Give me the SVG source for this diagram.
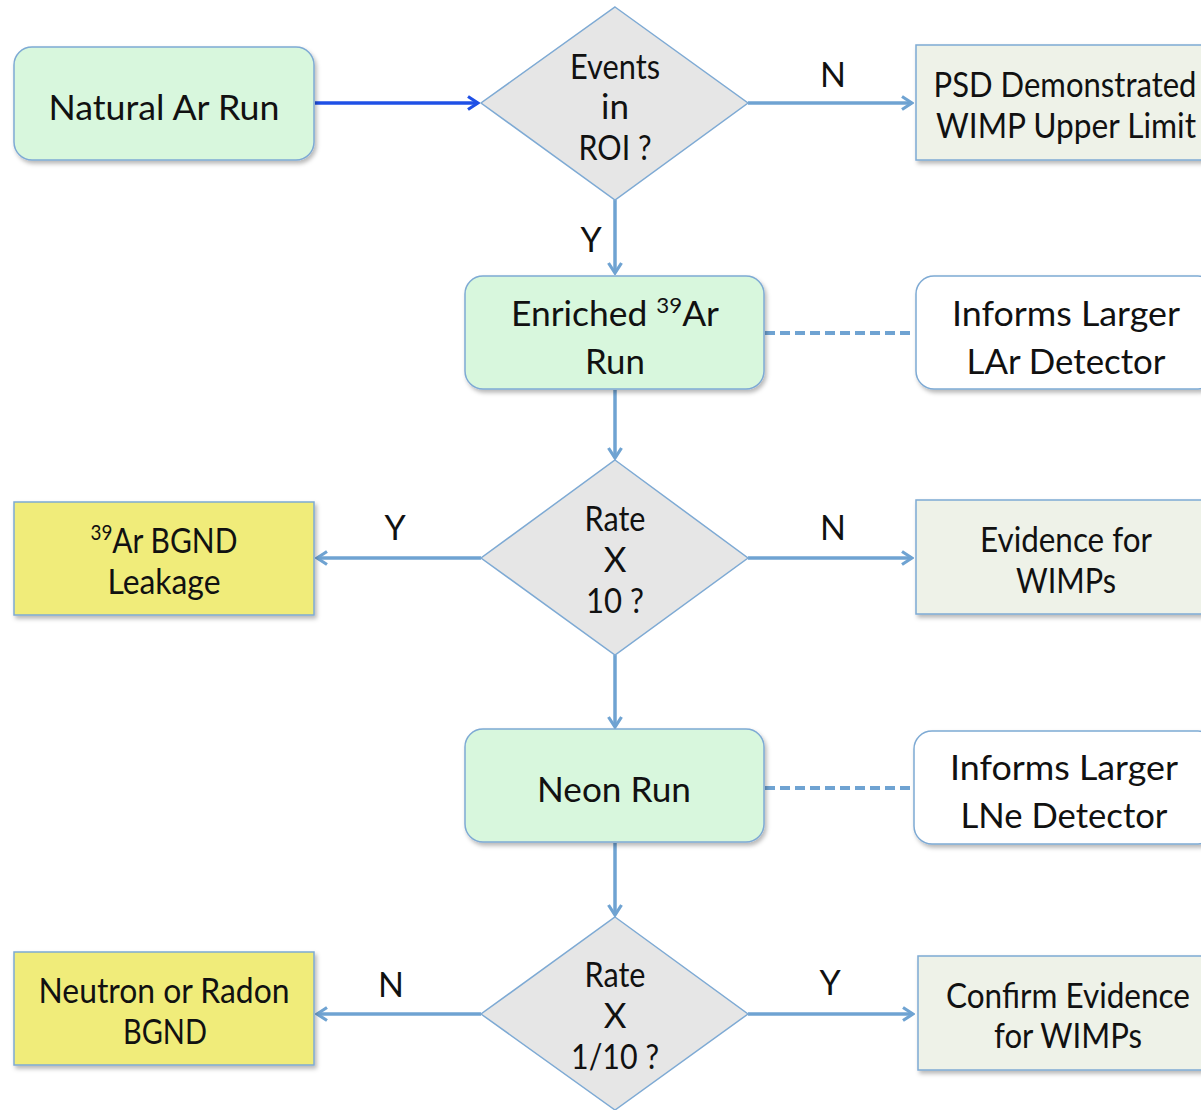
<svg xmlns="http://www.w3.org/2000/svg" width="1201" height="1110" viewBox="0 0 1201 1110">
<defs>
<style>
.t{font-family:Lato,"Open Sans","Liberation Sans",sans-serif;font-size:35px;fill:#111;text-anchor:middle}
.lbl{font-family:Lato,"Open Sans","Liberation Sans",sans-serif;font-size:34px;fill:#111;text-anchor:middle}
.sup{font-size:22px}
.green{fill:#d8f7dd;stroke:#7eaad4;stroke-width:1.5}
.white{fill:#ffffff;stroke:#7eaad4;stroke-width:1.5}
.grey{fill:#eef2e8;stroke:#7eaad4;stroke-width:1.5}
.yellow{fill:#f0ec7a;stroke:#7eaad4;stroke-width:1.5}
.dia{fill:#e6e6e6;stroke:#7eaad4;stroke-width:1.5}
.c{stroke:#6fa3d2;stroke-width:3.5;fill:none}
.cb{stroke:#1f50e6;stroke-width:3.5;fill:none}
.d{stroke:#6fa3d2;stroke-width:4;fill:none;stroke-dasharray:10 5}
</style>
<marker id="ah" viewBox="0 0 14 16" refX="12" refY="8" markerWidth="14" markerHeight="16" markerUnits="userSpaceOnUse" orient="auto">
<path d="M2,1.5 L12,8 L2,14.5" fill="none" stroke="#6fa3d2" stroke-width="3.2"/>
</marker>
<marker id="ahb" viewBox="0 0 14 16" refX="12" refY="8" markerWidth="14" markerHeight="16" markerUnits="userSpaceOnUse" orient="auto">
<path d="M2,1.5 L12,8 L2,14.5" fill="none" stroke="#1f50e6" stroke-width="3.2"/>
</marker>
<filter id="sh" x="-10%" y="-10%" width="125%" height="130%">
<feDropShadow dx="2" dy="3" stdDeviation="2" flood-color="#000" flood-opacity="0.28"/>
</filter>
</defs>
<rect width="1201" height="1110" fill="#ffffff"/>

<g id="connectors">
<line class="cb" x1="315" y1="103" x2="478" y2="103" marker-end="url(#ahb)"/>
<line class="c" x1="748" y1="103" x2="912" y2="103" marker-end="url(#ah)"/>
<text class="lbl" x="833" y="87">N</text>
<line class="c" x1="615" y1="200" x2="615" y2="273" marker-end="url(#ah)"/>
<text class="lbl" x="591" y="252">Y</text>
<line class="d" x1="765" y1="333" x2="915" y2="333"/>
<line class="c" x1="615" y1="390" x2="615" y2="458" marker-end="url(#ah)"/>
<line class="c" x1="481" y1="558" x2="317" y2="558" marker-end="url(#ah)"/>
<text class="lbl" x="395" y="540">Y</text>
<line class="c" x1="748" y1="558" x2="912" y2="558" marker-end="url(#ah)"/>
<text class="lbl" x="833" y="540">N</text>
<line class="c" x1="615" y1="655" x2="615" y2="727" marker-end="url(#ah)"/>
<line class="d" x1="765" y1="788" x2="913" y2="788"/>
<line class="c" x1="615" y1="843" x2="615" y2="915" marker-end="url(#ah)"/>
<line class="c" x1="481" y1="1014" x2="317" y2="1014" marker-end="url(#ah)"/>
<text class="lbl" x="391" y="997">N</text>
<line class="c" x1="748" y1="1014" x2="913" y2="1014" marker-end="url(#ah)"/>
<text class="lbl" x="830" y="995">Y</text>
</g>

<g id="natural-ar-run">
<rect class="green" x="14" y="47" width="300" height="113" rx="18" filter="url(#sh)"/>
<text class="t" x="164" y="120" textLength="231" lengthAdjust="spacingAndGlyphs">Natural Ar Run</text>
</g>

<g id="events-in-roi">
<polygon class="dia" points="615,7 748,103 615,200 481,103"/>
<text class="t" x="615" y="79" textLength="90" lengthAdjust="spacingAndGlyphs">Events</text>
<text class="t" x="615" y="119">in</text>
<text class="t" x="615" y="160" textLength="73" lengthAdjust="spacingAndGlyphs">ROI ?</text>
</g>

<g id="psd-demonstrated">
<rect class="grey" x="916" y="45" width="295" height="115" filter="url(#sh)"/>
<text class="t" x="1065" y="97" textLength="263" lengthAdjust="spacingAndGlyphs">PSD Demonstrated</text>
<text class="t" x="1066" y="138" textLength="260" lengthAdjust="spacingAndGlyphs">WIMP Upper Limit</text>
</g>

<g id="enriched-ar-run">
<rect class="green" x="465" y="276" width="299" height="113" rx="18" filter="url(#sh)"/>
<text class="t" x="615" y="326" textLength="208" lengthAdjust="spacingAndGlyphs">Enriched <tspan class="sup" dy="-13">39</tspan><tspan dy="13">Ar</tspan></text>
<text class="t" x="615" y="374" textLength="60" lengthAdjust="spacingAndGlyphs">Run</text>
</g>

<g id="informs-lar">
<rect class="white" x="916" y="276" width="300" height="113" rx="18" filter="url(#sh)"/>
<text class="t" x="1066" y="326" textLength="228" lengthAdjust="spacingAndGlyphs">Informs Larger</text>
<text class="t" x="1066" y="374" textLength="199" lengthAdjust="spacingAndGlyphs">LAr Detector</text>
</g>

<g id="rate-x10">
<polygon class="dia" points="615,460 748,558 615,655 481,558"/>
<text class="t" x="615" y="531" textLength="61" lengthAdjust="spacingAndGlyphs">Rate</text>
<text class="t" x="615" y="572">X</text>
<text class="t" x="615" y="613" textLength="58" lengthAdjust="spacingAndGlyphs">10 ?</text>
</g>

<g id="ar-bgnd-leakage">
<rect class="yellow" x="14" y="502" width="300" height="113" filter="url(#sh)"/>
<text class="t" x="164" y="553" textLength="147" lengthAdjust="spacingAndGlyphs"><tspan class="sup" dy="-13">39</tspan><tspan dy="13">Ar BGND</tspan></text>
<text class="t" x="164" y="594" textLength="113" lengthAdjust="spacingAndGlyphs">Leakage</text>
</g>

<g id="evidence-wimps">
<rect class="grey" x="916" y="500" width="295" height="114" filter="url(#sh)"/>
<text class="t" x="1066" y="552" textLength="172" lengthAdjust="spacingAndGlyphs">Evidence for</text>
<text class="t" x="1066" y="593" textLength="100" lengthAdjust="spacingAndGlyphs">WIMPs</text>
</g>

<g id="neon-run">
<rect class="green" x="465" y="729" width="299" height="113" rx="18" filter="url(#sh)"/>
<text class="t" x="614" y="802" textLength="154" lengthAdjust="spacingAndGlyphs">Neon Run</text>
</g>

<g id="informs-lne">
<rect class="white" x="914" y="731" width="302" height="113" rx="18" filter="url(#sh)"/>
<text class="t" x="1064" y="780" textLength="228" lengthAdjust="spacingAndGlyphs">Informs Larger</text>
<text class="t" x="1064" y="828" textLength="207" lengthAdjust="spacingAndGlyphs">LNe Detector</text>
</g>

<g id="rate-x1-10">
<polygon class="dia" points="615,917 748,1014 615,1110 481,1014"/>
<text class="t" x="615" y="987" textLength="61" lengthAdjust="spacingAndGlyphs">Rate</text>
<text class="t" x="615" y="1028">X</text>
<text class="t" x="615" y="1069" textLength="88" lengthAdjust="spacingAndGlyphs">1/10 ?</text>
</g>

<g id="neutron-radon">
<rect class="yellow" x="14" y="952" width="300" height="113" filter="url(#sh)"/>
<text class="t" x="164" y="1003" textLength="251" lengthAdjust="spacingAndGlyphs">Neutron or Radon</text>
<text class="t" x="165" y="1044" textLength="84" lengthAdjust="spacingAndGlyphs">BGND</text>
</g>

<g id="confirm-evidence">
<rect class="grey" x="918" y="956" width="293" height="114" filter="url(#sh)"/>
<text class="t" x="1068" y="1008" textLength="244" lengthAdjust="spacingAndGlyphs">Confirm Evidence</text>
<text class="t" x="1068" y="1048" textLength="148" lengthAdjust="spacingAndGlyphs">for WIMPs</text>
</g>
</svg>
